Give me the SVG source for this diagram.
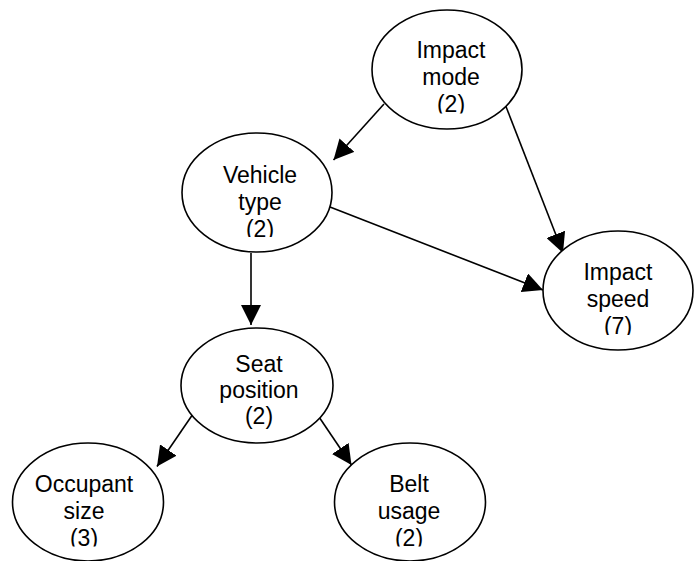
<svg xmlns="http://www.w3.org/2000/svg" width="699" height="561" viewBox="0 0 699 561">
<style>
.n{fill:#fff;stroke:#000;stroke-width:1.6}
.t{font-family:"Liberation Sans",Arial,sans-serif;font-size:23px;fill:#000;text-anchor:middle}
.e{stroke:#000;stroke-width:1.6;fill:none}
</style>
<defs>
<marker id="ah" markerUnits="userSpaceOnUse" markerWidth="20" markerHeight="20" refX="20" refY="10" orient="auto" viewBox="0 0 20 20">
<path d="M0,0 L20,10 L0,20 z" fill="#000"/>
</marker>
<clipPath id="c1"><rect x="360" y="0" width="180" height="113.5"/></clipPath>
<clipPath id="c2"><rect x="170" y="120" width="180" height="117"/></clipPath>
<clipPath id="c3"><rect x="530" y="220" width="169" height="115"/></clipPath>
<clipPath id="c5"><rect x="0" y="430" width="180" height="116.5"/></clipPath>
<clipPath id="c6"><rect x="320" y="430" width="180" height="116.5"/></clipPath>
</defs>
<rect width="699" height="561" fill="#fff"/>
<g id="connectors">
<line class="e" x1="384" y1="104" x2="333.5" y2="160" marker-end="url(#ah)"/>
<line class="e" x1="505" y1="104" x2="563" y2="253" marker-end="url(#ah)"/>
<line class="e" x1="330" y1="207" x2="543" y2="290" marker-end="url(#ah)"/>
<line class="e" x1="251" y1="253" x2="251" y2="325" marker-end="url(#ah)"/>
<line class="e" x1="193" y1="414" x2="157" y2="466.5" marker-end="url(#ah)"/>
<line class="e" x1="317" y1="414" x2="351.5" y2="465" marker-end="url(#ah)"/>
</g>
<g id="impact-mode">
<ellipse class="n" cx="447" cy="69.5" rx="75" ry="59.5"/>
<g clip-path="url(#c1)"><text class="t" x="451" y="58">Impact</text><text class="t" x="451" y="85">mode</text><text class="t" x="451" y="112">(2)</text></g>
</g>
<g id="vehicle-type">
<ellipse class="n" cx="257" cy="192.5" rx="75" ry="59.5"/>
<g clip-path="url(#c2)"><text class="t" x="260" y="183">Vehicle</text><text class="t" x="260" y="210">type</text><text class="t" x="260" y="237">(2)</text></g>
</g>
<g id="impact-speed">
<ellipse class="n" cx="618" cy="290.5" rx="75" ry="59.5"/>
<g clip-path="url(#c3)"><text class="t" x="618" y="280">Impact</text><text class="t" x="618" y="307">speed</text><text class="t" x="618" y="334">(7)</text></g>
</g>
<g id="seat-position">
<ellipse class="n" cx="257" cy="385.5" rx="76" ry="57.5"/>
<text class="t" x="259" y="372">Seat</text><text class="t" x="259" y="398">position</text><text class="t" x="259" y="424">(2)</text>
</g>
<g id="occupant-size">
<ellipse class="n" cx="88" cy="502" rx="75.5" ry="59"/>
<g clip-path="url(#c5)"><text class="t" x="84" y="492">Occupant</text><text class="t" x="84" y="519">size</text><text class="t" x="84" y="546">(3)</text></g>
</g>
<g id="belt-usage">
<ellipse class="n" cx="410" cy="502" rx="75.5" ry="59"/>
<g clip-path="url(#c6)"><text class="t" x="409" y="492">Belt</text><text class="t" x="409" y="519">usage</text><text class="t" x="409" y="546">(2)</text></g>
</g>
</svg>
